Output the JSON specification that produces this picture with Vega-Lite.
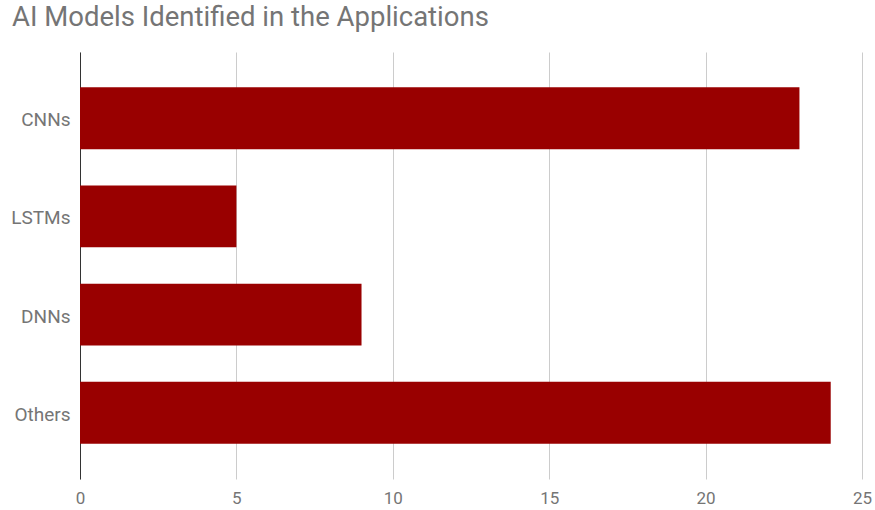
{
  "$schema": "https://vega.github.io/schema/vega-lite/v6.json",
  "width": 782,
  "height": 427,
  "autosize": "none",
  "padding": {"left": 80, "top": 52, "right": 13, "bottom": 31},
  "title": {
    "text": "AI Models Identified in the Applications",
    "anchor": "start",
    "frame": "group",
    "dx": -68,
    "offset": 21,
    "font": "Roboto",
    "fontSize": 27.5,
    "fontWeight": "normal",
    "color": "#757575"
  },
  "data": {
    "values": [
      {"model": "CNNs", "count": 23},
      {"model": "LSTMs", "count": 5},
      {"model": "DNNs", "count": 9},
      {"model": "Others", "count": 24}
    ]
  },
  "mark": {"type": "bar", "color": "#990000"},
  "encoding": {
    "y": {
      "field": "model",
      "type": "nominal",
      "sort": null,
      "title": null,
      "scale": {"paddingInner": 0.37, "paddingOuter": 0.36},
      "axis": {
        "ticks": false,
        "domain": true,
        "domainColor": "#333333",
        "labelFont": "Roboto",
        "labelFontSize": 19,
        "labelColor": "#757575",
        "labelPadding": 10,
        "labelOffset": 2
      }
    },
    "x": {
      "field": "count",
      "type": "quantitative",
      "title": null,
      "scale": {"domain": [0, 25], "nice": false},
      "axis": {
        "values": [0, 5, 10, 15, 20, 25],
        "ticks": false,
        "domain": false,
        "grid": true,
        "gridColor": "#cccccc",
        "labelFlush": false,
        "labelFont": "Roboto",
        "labelFontSize": 17,
        "labelColor": "#757575",
        "labelPadding": 11
      }
    }
  },
  "config": {"view": {"stroke": null}}
}
